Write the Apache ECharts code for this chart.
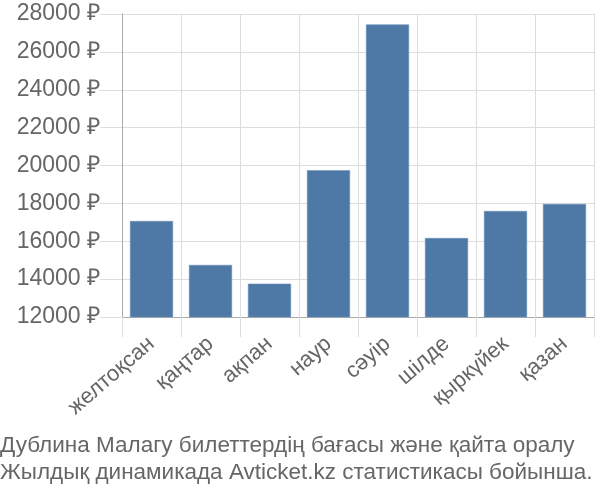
<!DOCTYPE html>
<html><head><meta charset="utf-8">
<script src="https://cdn.jsdelivr.net/npm/echarts@6/dist/echarts.min.js"></script>
<style>html,body{margin:0;padding:0;background:#fff}#c{width:600px;height:500px}</style>
</head><body><div id="c"></div>
<script>
const categories = ['желтоқсан','қаңтар','ақпан','наур','сәуір','шілде','қыркүйек','қазан'];
const prices = [17070, 14750, 13760, 19750, 27450, 16170, 17600, 17970];
const yTicks = {min: 12000, max: 28000, interval: 2000};
const titleLines = ['Дублина Малагу билеттердің бағасы және қайта оралу', 'Жылдық динамикада Avticket.kz статистикасы бойынша.'];

const chart = echarts.init(document.getElementById('c'), null, {renderer: 'canvas'});
const font = 'Liberation Sans, Arial, sans-serif';
chart.setOption({
  animation: false,
  textStyle: {fontFamily: font},
  title: {
    text: titleLines.join('\n'), left: 0, top: 432, padding: 0,
    textStyle: {fontSize: 22.5, fontWeight: 'normal', color: '#666', lineHeight: 27, fontFamily: font}
  },
  grid: {left: 122, right: 6, top: 14, bottom: 183, containLabel: false},
  xAxis: {
    type: 'category', data: categories,
    axisLine: {show: true, lineStyle: {color: '#aaa', width: 1}},
    axisTick: {show: true, length: 20, alignWithLabel: false, lineStyle: {color: '#ddd'}},
    splitLine: {show: true, lineStyle: {color: '#ddd', width: 1}},
    axisLabel: {rotate: 41, fontSize: 22, color: '#666', margin: 24, interval: 0}
  },
  yAxis: {
    type: 'value', min: yTicks.min, max: yTicks.max, interval: yTicks.interval,
    axisLine: {show: true, lineStyle: {color: '#aaa', width: 1}},
    axisTick: {show: true, length: 22, lineStyle: {color: '#ddd'}},
    splitLine: {show: true, lineStyle: {color: '#ddd', width: 1}},
    axisLabel: {formatter: v => v + ' ₽', fontSize: 23, color: '#666', margin: 22}
  },
  series: [{
    type: 'bar', data: prices, barCategoryGap: '27%',
    itemStyle: {color: '#4e79a7', borderColor: '#6f93bb', borderWidth: 0.5}
  }]
});
</script></body></html>
